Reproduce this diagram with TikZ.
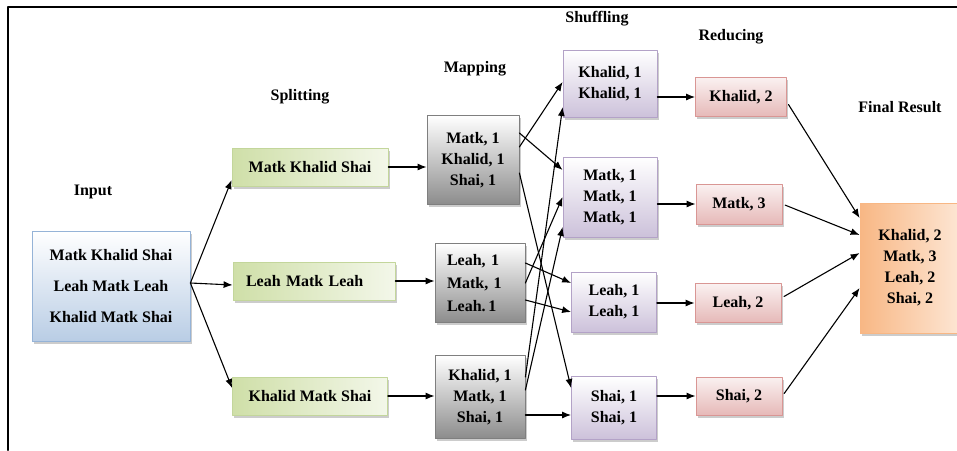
\documentclass[tikz,border=0pt]{standalone}
\usepackage{fontspec}
\setmainfont{Liberation Serif}
\usetikzlibrary{arrows.meta,calc,positioning,shadows}

\definecolor{inedge}{HTML}{95B3D7}
\definecolor{infill}{HTML}{B9CDE5}
\definecolor{spedge}{HTML}{C3D69B}
\definecolor{spfill}{HTML}{CFDFA8}
\definecolor{mpedge}{HTML}{7F7F7F}
\definecolor{mpfill}{HTML}{8C8C8C}
\definecolor{shedge}{HTML}{B3A2C7}
\definecolor{shfill}{HTML}{CCC1DA}
\definecolor{rdedge}{HTML}{D99694}
\definecolor{rdfill}{HTML}{E6B9B8}
\definecolor{fnfill}{HTML}{F8B784}
\definecolor{fnlight}{HTML}{FDE6D4}

\begin{document}
\begin{tikzpicture}[
    x=1pt,
    y=-1pt,
    >=Latex,
    font=\bfseries\fontsize{16}{21}\selectfont,
    line cap=round,
    line join=round,
    box/.style={
        draw,
        line width=0.8pt,
        inner sep=0pt,
        align=center,
        drop shadow={shadow xshift=1.5pt,shadow yshift=-2.5pt,fill=black!40,opacity=0.5}
    },
    inbox/.style={box, draw=inedge, top color=white, bottom color=infill},
    splitbox/.style={box, draw=spedge, left color=spfill, right color=spfill!25},
    mapbox/.style={box, draw=mpedge, top color=white, bottom color=mpfill},
    shufbox/.style={box, draw=shedge, top color=white, bottom color=shfill},
    redbox/.style={box, draw=rdedge, top color=rdfill!20, bottom color=rdfill},
    finbox/.style={box, draw=fnfill, left color=fnfill, right color=fnlight},
    stage/.style={inner sep=0pt},
    flow/.style={-{Latex[length=9pt,width=7pt]}, line width=1.1pt}
]

\useasboundingbox (0,0) rectangle (957,450);

% frame
\draw[line width=2pt]
    (8,450) -- (8,7) -- (957,7);

% stage titles
\node[stage] (lblin) at (93,192) {Input};
\node[stage] (lblsplit) at (300,97) {Splitting};
\node[stage] (lblmap) at (475,69) {Mapping};
\node[stage] (lblshuf) at (597,19) {Shuffling};
\node[stage] (lblred) at (731,37) {Reducing};
\node[stage] (lblfin) at (900,107) {Final Result};

% input
\node[inbox, minimum width=158pt, minimum height=110pt] (input) at (111,286)
    {Matk Khalid Shai\\[10pt]Leah Matk Leah\\[10pt]Khalid Matk Shai};

% splitting
\node[splitbox, minimum width=156pt, minimum height=38pt] (split1) at (310,167)
    {Matk Khalid Shai};
\node[splitbox, minimum height=38pt, text width=136pt, inner xsep=13pt, align=left] (split2) at (314,281)
    {Leah Matk Leah};
\node[splitbox, minimum width=155pt, minimum height=38pt] (split3) at (310,396)
    {Khalid Matk Shai};

% mapping
\node[mapbox, minimum width=92pt, minimum height=89pt] (map1) at (473,160)
    {Matk, 1\\Khalid, 1\\Shai, 1};
\node[mapbox, minimum height=79pt, text width=66pt, inner xsep=12pt, align=left] (map2) at (480,283)
    {Leah, 1\\[2pt]Matk, 1\\[2pt]Leah.\,1};
\node[mapbox, minimum width=90pt, minimum height=83pt] (map3) at (480,397)
    {Khalid, 1\\Matk, 1\\Shai, 1};

% shuffling
\node[shufbox, minimum width=94pt, minimum height=67pt] (shuf1) at (610,84)
    {Khalid, 1\\Khalid, 1};
\node[shufbox, minimum width=94pt, minimum height=80pt] (shuf2) at (610,197)
    {Matk, 1\\Matk, 1\\Matk, 1};
\node[shufbox, minimum width=85pt, minimum height=60pt] (shuf3) at (614,302)
    {Leah, 1\\Leah, 1};
\node[shufbox, minimum width=85pt, minimum height=63pt] (shuf4) at (614,408)
    {Shai, 1\\Shai, 1};

% reducing
\node[redbox, minimum width=91pt, minimum height=39pt] (red1) at (741,97) {Khalid, 2};
\node[redbox, minimum width=86pt, minimum height=40pt] (red2) at (739,204) {Matk, 3};
\node[redbox, minimum width=86pt, minimum height=39pt] (red3) at (738,303) {Leah, 2};
\node[redbox, minimum width=86pt, minimum height=38pt] (red4) at (739,396) {Shai, 2};

% final result
\node[finbox, minimum width=100pt, minimum height=130pt] (final) at (910,268)
    {Khalid, 2\\Matk, 3\\Leah, 2\\Shai, 2};

% input -> splitting
\draw[flow] ([yshift=3pt]input.east) -- ([yshift=-13pt]split1.west);
\draw[flow] ([yshift=3pt]input.east) -- ([yshift=-4pt]split2.west);
\draw[flow] ([yshift=3pt]input.east) -- ([yshift=8pt]split3.west);

% splitting -> mapping
\draw[flow] (split1.east) -- (split1.east -| map1.west);
\draw[flow] (split2.east) -- (split2.east -| map2.west);
\draw[flow] (split3.east) -- (split3.east -| map3.west);

% mapping -> shuffling
\draw[flow] ([yshift=13pt]map1.east) -- ([yshift=2pt]shuf1.west);
\draw[flow] ([yshift=27pt]map1.east) -- ([yshift=27pt]shuf2.west);
\draw[flow] ([yshift=-13pt]map1.east) -- ([yshift=20pt]shuf4.west);
\draw[flow] ([yshift=20pt]map2.east) -- ([yshift=19pt]shuf3.west);
\draw[flow] (map2.east) -- (shuf2.west);
\draw[flow] ([yshift=-17pt]map2.east) -- ([yshift=-10pt]shuf3.west);
\draw[flow] ([yshift=20pt]map3.east) -- ([yshift=-23pt]shuf1.west);
\draw[flow] ([yshift=7pt]map3.east) -- ([yshift=-30pt]shuf2.west);
\draw[flow] ([yshift=-18pt]map3.east) -- ([yshift=-7pt]shuf4.west);

% shuffling -> reducing
\foreach \i in {1,...,4}
    \draw[flow] (red\i.west -| shuf\i.east) -- (red\i.west);

% reducing -> final result
\draw[flow, shorten <=3pt] ([yshift=-5pt]red1.east) -- ([yshift=50pt]final.west);
\draw[flow, shorten <=3pt] (red2.east) -- ([yshift=33pt]final.west);
\draw[flow, shorten <=3pt] ([yshift=5pt]red3.east) -- ([yshift=15pt]final.west);
\draw[flow, shorten <=3pt] (red4.east) -- ([yshift=-20pt]final.west);

\end{tikzpicture}
\end{document}
